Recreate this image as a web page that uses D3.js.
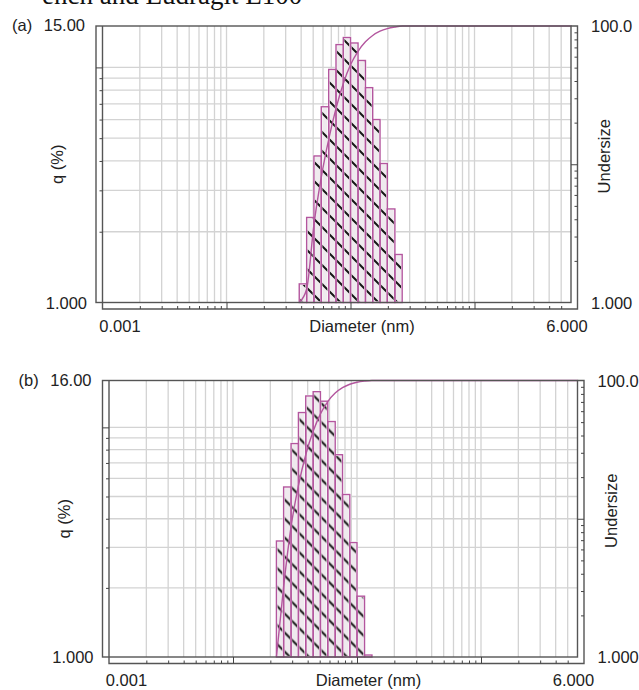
<!DOCTYPE html>
<html>
<head>
<meta charset="utf-8">
<script src="https://cdn.jsdelivr.net/npm/d3@7"></script>
<style>
  body { margin: 0; background: #fff; }
  text { font-family: "Liberation Sans", Arial, sans-serif; fill: #222; }
</style>
</head>
<body>
<script>
// bin edges (diameter), same size grid for both samples
const edgesA = [0.0386, 0.0443, 0.0507, 0.0581, 0.0667, 0.0764, 0.0875, 0.100, 0.115, 0.132, 0.151, 0.173, 0.198, 0.228, 0.261]
const qA = [1.2, 2.3, 4.2, 6.8, 9.8, 12.5, 13.4, 12.7, 10.7, 8.2, 6.0, 3.9, 2.5, 1.6]

const edgesB = [0.0224, 0.0256, 0.0294, 0.0337, 0.0386, 0.0443, 0.0507, 0.0581, 0.0667, 0.0764, 0.0875, 0.100, 0.115, 0.132]
const qB = [3.2, 5.5, 8.5, 11.6, 13.7, 14.3, 13.0, 10.6, 7.6, 5.1, 3.15, 1.84, 1.02]

const xDomain = [0.001, 6]
const xMajor = [0.01, 0.1, 1]
const xLabels = ['0.001', 'Diameter (nm)', '6.000']
const uDomain = [1, 100]

const panels = [
  { tag: '(a)', qMax: 15, qTopLabel: '15.00', edges: edgesA, q: qA, dx: 0, dy: 0 },
  { tag: '(b)', qMax: 16, qTopLabel: '16.00', edges: edgesB, q: qB, dx: 6.5, dy: 354.5 }
]

const W = 639, H = 690
const L = 96, T = 26, R = 571, B = 302.5, o = 6.5
const pink = '#b3569e'
const fs = '16.5px'

const svg = d3.select('body').append('svg').attr('width', W).attr('height', H)

const defs = svg.append('defs')
const pat = defs.append('pattern').attr('id', 'hatch').attr('patternUnits', 'userSpaceOnUse')
  .attr('width', 19).attr('height', 19)
pat.append('rect').attr('width', 19).attr('height', 19).attr('fill', '#efeaee')
pat.append('path').attr('d', 'M0,0L19,19M-3,16L3,22M16,-3L22,3')
  .attr('stroke', '#161616').attr('stroke-width', 2)

// cut-off caption line at the very top
svg.append('text').attr('x', 42).attr('y', 4)
  .style('font-family', '"Liberation Serif", "Times New Roman", serif')
  .style('font-size', '27px').style('fill', '#111')
  .text('ench and Eudragit E100')

panels.forEach(p => {
  const g = svg.append('g').attr('transform', `translate(${p.dx},${p.dy})`)

  const x = d3.scaleLog().domain(xDomain).range([L + o, R])
  const y = d3.scaleLog().domain([1, p.qMax]).range([B, T])
  const yu = d3.scaleLog().domain(uDomain).range([B, T])

  const xMinor = x.ticks().filter(v => v > xDomain[0] && v < xDomain[1])
  const yMinor = y.ticks().filter(v => v > 1 && v < p.qMax)
  const uTicks = yu.ticks().filter(v => v > 1 && v < 100)

  // grid
  g.append('g').selectAll('line').data(xMinor).enter().append('line')
    .attr('x1', d => x(d)).attr('x2', d => x(d)).attr('y1', T).attr('y2', B)
    .attr('stroke', '#d3d3d3').attr('stroke-width', 1.3)
  g.append('g').selectAll('line').data(yMinor).enter().append('line')
    .attr('x1', L + o).attr('x2', R).attr('y1', d => y(d)).attr('y2', d => y(d))
    .attr('stroke', '#d3d3d3').attr('stroke-width', 1.3)

  // bars
  const bins = p.q.map((v, i) => ({ x0: p.edges[i], x1: p.edges[i + 1], q: v }))
  g.append('g').selectAll('rect').data(bins).enter().append('rect')
    .attr('x', d => x(d.x0)).attr('width', d => x(d.x1) - x(d.x0))
    .attr('y', d => y(d.q)).attr('height', d => B - y(d.q))
    .attr('fill', 'url(#hatch)').attr('stroke', '#fff').attr('stroke-width', 2.2)
  g.append('g').selectAll('rect').data(bins).enter().append('rect')
    .attr('x', d => x(d.x0)).attr('width', d => x(d.x1) - x(d.x0))
    .attr('y', d => y(d.q)).attr('height', d => B - y(d.q))
    .attr('fill', 'none').attr('stroke', pink).attr('stroke-width', 1.4)

  // cumulative undersize curve
  const total = d3.sum(p.q)
  const cum = Array.from(d3.cumsum(p.q), v => v / total * 100)
  const pts = [[p.edges[0], 1]].concat(cum.map((v, i) => [p.edges[i + 1], Math.max(1, v)]))
  pts.push([xDomain[1], 100])
  const line = d3.line().x(d => x(d[0])).y(d => yu(d[1])).curve(d3.curveMonotoneX)
  g.append('path').attr('d', line(pts)).attr('fill', 'none')
    .attr('stroke', pink).attr('stroke-width', 1.4)

  // frames
  g.append('rect').attr('x', L).attr('y', T).attr('width', R - L).attr('height', B - T)
    .attr('fill', 'none').attr('stroke', '#555').attr('stroke-width', 1.4)
  g.append('path')
    .attr('d', `M${L + o},${T}V${B + o}H${R + o}V${T}H${R}`)
    .attr('fill', 'none').attr('stroke', '#555').attr('stroke-width', 1.4)

  // axes
  const clean = s => { s.select('.domain').remove(); s.selectAll('line').attr('stroke', '#444') }
  g.append('g').attr('transform', `translate(0,${B + o})`)
    .call(d3.axisTop(x).tickValues(xMinor.filter(v => !xMajor.includes(v))).tickSize(3).tickFormat(''))
    .call(clean)
  g.append('g').attr('transform', `translate(0,${B + o})`)
    .call(d3.axisTop(x).tickValues(xMajor).tickSize(o).tickFormat(''))
    .call(clean)
  g.append('g').attr('transform', `translate(${L + o},0)`)
    .call(d3.axisLeft(y).tickValues(yMinor.filter(v => v !== 10)).tickSize(3).tickFormat(''))
    .call(clean)
  g.append('g').attr('transform', `translate(${L + o},0)`)
    .call(d3.axisLeft(y).tickValues([10]).tickSize(o).tickFormat(''))
    .call(clean)
  g.append('g').attr('transform', `translate(${R + o},0)`)
    .call(d3.axisLeft(yu).tickValues(uTicks.filter(v => v !== 10)).tickSize(3).tickFormat(''))
    .call(clean)
  g.append('g').attr('transform', `translate(${R + o},0)`)
    .call(d3.axisLeft(yu).tickValues([10]).tickSize(o).tickFormat(''))
    .call(clean)

  // text
  const t = (s, xx, yy, anchor) => g.append('text').attr('x', xx).attr('y', yy)
    .attr('text-anchor', anchor).style('font-size', fs).text(s)
  t(p.tag, 12, T + 5, 'start')
  t(p.qTopLabel, L - 11, T + 5, 'end')
  t('1.000', L - 9, B + 6, 'end')
  t('100.0', R + 20, T + 6, 'start')
  t('1.000', R + 20, B + 6, 'start')
  t(xLabels[0], 120, B + 29, 'middle')
  t(xLabels[1], 362, B + 29, 'middle')
  t(xLabels[2], 567, B + 29, 'middle')
  g.append('text').attr('transform', `translate(63,${(T + B) / 2}) rotate(-90)`)
    .attr('text-anchor', 'middle').style('font-size', fs).text('q (%)')
  g.append('text').attr('transform', `translate(610,${(T + B) / 2 - 8}) rotate(-90)`)
    .attr('text-anchor', 'middle').style('font-size', fs).text('Undersize')
})
</script>
</body>
</html>
